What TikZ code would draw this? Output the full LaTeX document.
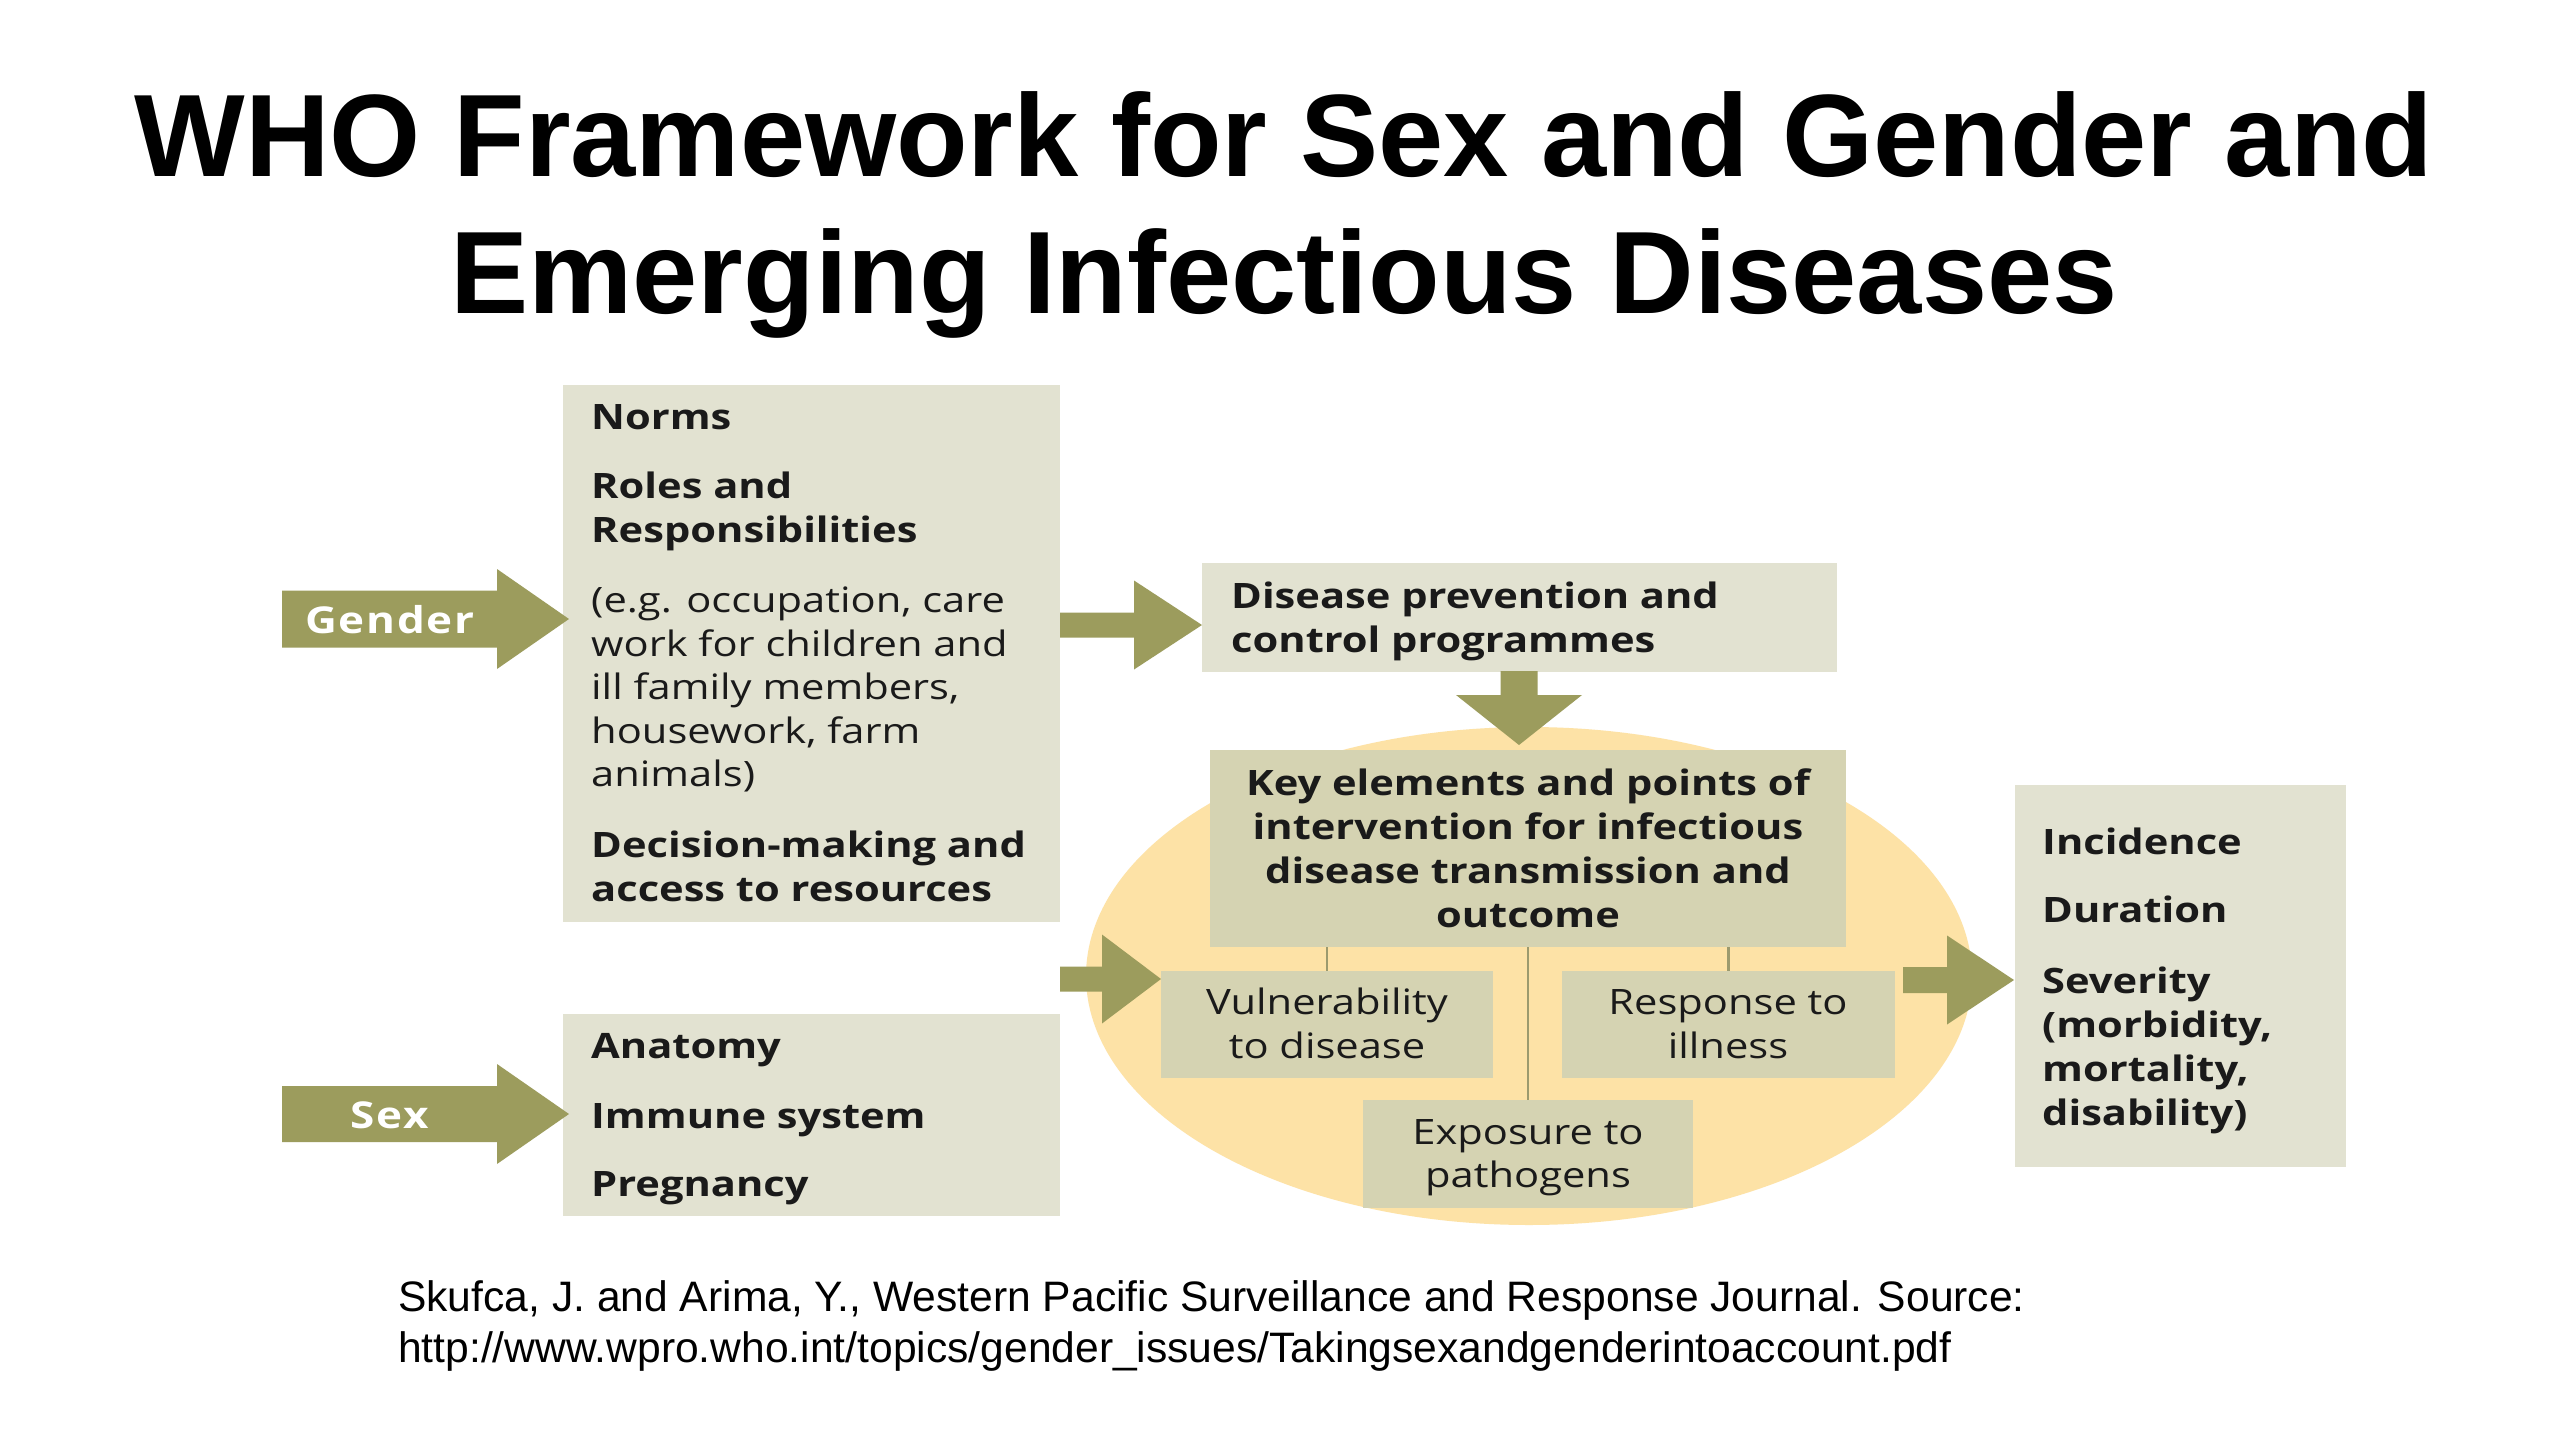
\documentclass[tikz,border=0pt]{standalone}
\usepackage{fontspec}
\usetikzlibrary{shapes.geometric}
\setmainfont{Open Sans}[FakeStretch=1.19]
\newfontfamily\arialfont{Liberation Sans}
\definecolor{arrowc}{HTML}{9C9C5D}
\definecolor{lightbox}{HTML}{E2E2D1}
\definecolor{darkbox}{HTML}{D5D3B2}
\definecolor{ellc}{HTML}{FDE2A6}
\definecolor{linec}{HTML}{9C9A6E}
\definecolor{txtc}{HTML}{1A1A1A}
\tikzset{
  lbox/.style={fill=lightbox, draw=none, inner sep=0pt},
  dbox/.style={fill=darkbox, draw=none, inner sep=0pt},
  btxt/.style={font=\fontsize{35}{42}\selectfont\bfseries, inner sep=0pt, text=txtc},
  rtxt/.style={font=\fontsize{35}{42}\selectfont, inner sep=0pt, text=txtc},
  wtxt/.style={font=\fontsize{37}{44}\selectfont\bfseries\addfontfeatures{LetterSpace=4.5}, inner sep=0pt, text=white},
  blockarrow/.style={fill=arrowc, draw=none},
  conn/.style={draw=linec, line width=2.5pt},
  titletxt/.style={font=\arialfont\bfseries\fontsize{117.2}{140}\selectfont, inner sep=0pt, anchor=base},
  citetxt/.style={font=\arialfont\fontsize{42.6}{50}\selectfont, inner sep=0pt, anchor=base west}
}
% box node from corners: name, style, x1, y1, x2, y2
\newcommand\boxnode[6]{\node[#2, minimum width={#5-#3}, minimum height={#6-#4}] (#1) at ({(#3+#5)/2},{(#4+#6)/2}) {};}
% right-pointing block arrow: x0, xhead, xtip, y, halfbody, halfhead
\newcommand\rarrow[6]{\fill[blockarrow] (#1,#4-#5) -- (#2,#4-#5) -- (#2,#4-#6) -- (#3,#4) -- (#2,#4+#6) -- (#2,#4+#5) -- (#1,#4+#5) -- cycle;}
\begin{document}
\begin{tikzpicture}[x=1pt,y=-1pt]
\useasboundingbox (0,0) rectangle (2560,1440);
\fill[white] (0,0) rectangle (2560,1440);

% title
\node[titletxt] (t1) at (1284,176) {WHO Framework for Sex and Gender and};
\node[titletxt] (t2) at (1284,313) {Emerging Infectious Diseases};

% ellipse
\node[ellipse, fill=ellc, draw=none, inner sep=0pt, minimum width=886pt, minimum height=498pt] (ell) at (1529,976) {};

% boxes
\boxnode{norms}{lbox}{563}{385}{1060}{922}
\boxnode{sexbox}{lbox}{563}{1014}{1060}{1216}
\boxnode{prev}{lbox}{1202}{563}{1837}{672}
\boxnode{key}{dbox}{1210}{750}{1846}{947}
\boxnode{vul}{dbox}{1161}{971}{1493}{1078}
\boxnode{resp}{dbox}{1562}{971}{1895}{1078}
\boxnode{expo}{dbox}{1363}{1100}{1693}{1208}
\boxnode{outc}{lbox}{2015}{785}{2346}{1167}

% connectors inside ellipse
\draw[conn] (key.south -| vul.north) -- (vul.north);
\draw[conn] (key.south -| resp.north) -- (resp.north);
\draw[conn] (key.south) -- (expo.north);

% block arrows
\rarrow{282}{497}{569}{619}{28.5}{50}
\rarrow{282}{497}{569}{1114}{28}{50}
\rarrow{1060}{1134}{1202}{625}{12.5}{44.5}
\rarrow{1060}{1102}{1161}{979}{12.5}{44.5}
\rarrow{1903}{1947}{2014}{980}{13}{44.5}
\fill[blockarrow] (1500.5,671) -- (1537.5,671) -- (1537.5,695) -- (1582,695) -- (1519,745) -- (1456,695) -- (1500.5,695) -- cycle;

% arrow labels
\node[wtxt, anchor=base] (gender) at (390,633) {Gender};
\node[wtxt, anchor=base] (sex) at (390,1128) {Sex};

% norms box text
\node[btxt, anchor=base west] (n1) at (591,429) {Norms};
\node[btxt, anchor=base west] (n2) at (591,498) {Roles and};
\node[btxt, anchor=base west] (n3) at (591,542) {Responsibilities};
\node[rtxt, anchor=base west] (n4) at (591,612) {(e.g. occupation, care};
\node[rtxt, anchor=base west] (n5) at (591,656) {work for children and};
\node[rtxt, anchor=base west] (n6) at (591,699) {ill family members,};
\node[rtxt, anchor=base west] (n7) at (591,743) {housework, farm};
\node[rtxt, anchor=base west] (n8) at (591,786) {animals)};
\node[btxt, anchor=base west] (n9) at (591,857) {Decision-making and};
\node[btxt, anchor=base west] (n10) at (591,901) {access to resources};

% sex box text
\node[btxt, anchor=base west] (s1) at (591,1058) {Anatomy};
\node[btxt, anchor=base west] (s2) at (591,1128) {Immune system};
\node[btxt, anchor=base west] (s3) at (591,1196) {Pregnancy};

% prevention box text
\node[btxt, anchor=base west] (p1) at (1231,608) {Disease prevention and};
\node[btxt, anchor=base west] (p2) at (1231,652) {control programmes};

% key box text
\node[btxt, anchor=base] (k1) at (1528,795) {Key elements and points of};
\node[btxt, anchor=base] (k2) at (1528,839) {intervention for infectious};
\node[btxt, anchor=base] (k3) at (1528,883) {disease transmission and};
\node[btxt, anchor=base] (k4) at (1528,927) {outcome};

% sub boxes text
\node[rtxt, anchor=base] (v1) at (1327,1014) {Vulnerability};
\node[rtxt, anchor=base] (v2) at (1327,1058) {to disease};
\node[rtxt, anchor=base] (r1) at (1728,1014) {Response to};
\node[rtxt, anchor=base] (r2) at (1728,1058) {illness};
\node[rtxt, anchor=base] (e1) at (1528,1144) {Exposure to};
\node[rtxt, anchor=base] (e2) at (1528,1187) {pathogens};

% outcome box text
\node[btxt, anchor=base west] (o1) at (2042,854) {Incidence};
\node[btxt, anchor=base west] (o2) at (2042,922) {Duration};
\node[btxt, anchor=base west] (o3) at (2042,993) {Severity};
\node[btxt, anchor=base west] (o4) at (2042,1037) {(morbidity,};
\node[btxt, anchor=base west] (o5) at (2042,1081) {mortality,};
\node[btxt, anchor=base west] (o6) at (2042,1125) {disability)};

% citation
\node[citetxt] (c1) at (398,1311) {Skufca, J. and Arima, Y., Western Pacific Surveillance and Response Journal. Source:};
\node[citetxt] (c2) at (398,1362) {http://www.wpro.who.int/topics/gender\_issues/Takingsexandgenderintoaccount.pdf};
\end{tikzpicture}
\end{document}
